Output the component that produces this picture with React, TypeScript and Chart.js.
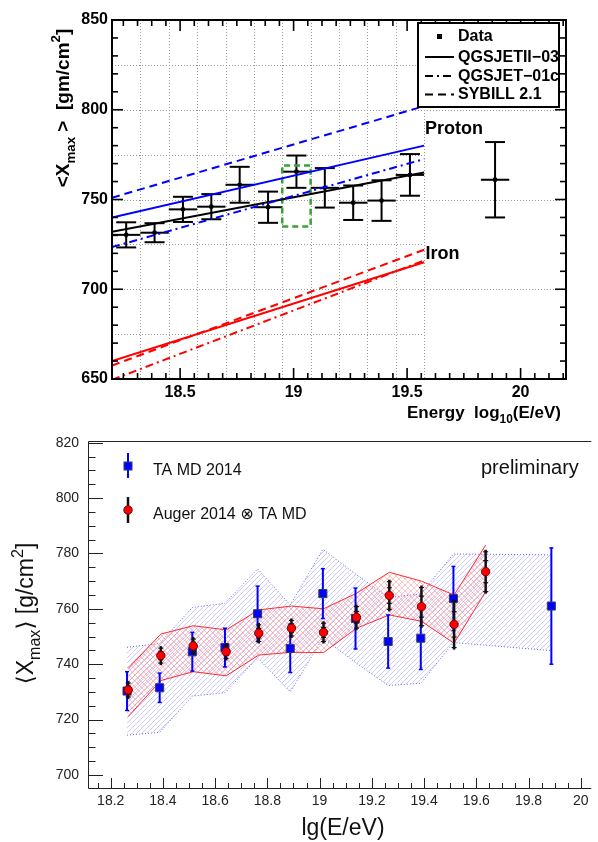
import React, { useEffect, useRef } from 'react';
import { Chart, registerables } from 'chart.js';

Chart.register(...registerables);

const FONT = "'Liberation Sans', 'DejaVu Sans', Arial, sans-serif";

// ---------- TA MD 2014 (shared by both panels) ----------
const taEnergy = [18.2625, 18.3875, 18.5125, 18.6375, 18.7625, 18.8875, 19.0125, 19.1375, 19.2625, 19.3875, 19.5125, 19.8875];
const taXmax = [730.3, 731.5, 744.5, 746.0, 758.2, 745.7, 765.5, 756.5, 748.2, 749.4, 763.7, 761.0];
const taErr = [7.0, 5.3, 7.0, 7.0, 10.0, 8.7, 9.0, 11.0, 9.6, 11.3, 11.6, 21.0];
const taBinHalfWidth = [0.0625, 0.0625, 0.0625, 0.0625, 0.0625, 0.0625, 0.0625, 0.0625, 0.0625, 0.0625, 0.0625, 0.0625];
const taSysUpper = [746.1, 747.5, 760.5, 762.0, 774.4, 761.4, 781.5, 772.6, 764.1, 765.4, 779.8, 779.5];
const taSysLower = [714.4, 715.4, 728.5, 729.7, 742.3, 730.0, 749.5, 740.6, 732.3, 733.1, 747.8, 744.9];

// ---------- Auger 2014 folded with TA MD ----------
const augerEnergy = [18.267, 18.392, 18.516, 18.642, 18.767, 18.892, 19.015, 19.141, 19.267, 19.39, 19.515, 19.636];
const augerXmax = [730.7, 743.1, 746.6, 744.5, 751.2, 753.0, 751.5, 756.9, 764.8, 760.8, 754.4, 773.4];
const augerErrTotal = [2.5, 2.7, 2.5, 2.4, 3.0, 2.8, 3.3, 3.9, 5.0, 6.9, 8.4, 7.2];
const augerErrStat = [1.4, 1.5, 1.4, 1.3, 1.7, 1.6, 1.8, 2.1, 2.8, 3.8, 4.6, 4.0];
const augerBandUpper = [738.5, 750.9, 753.9, 752.4, 759.6, 761.0, 760.0, 765.6, 773.2, 770.0, 765.0, 783.0];
const augerBandLower = [721.1, 734.1, 737.3, 735.8, 743.3, 744.3, 744.2, 753.0, 757.8, 755.5, 747.6, 766.2];

// ---------- top panel model lines ----------
const modelEnergy = [18.2, 19.575];
const fitXmax = [732, 765];
const protonQGSJETII = [740, 780];
const protonQGSJET01c = [723.5, 772.5];
const protonSIBYLL = [751, 802];
const ironQGSJETII = [660, 715];
const ironQGSJET01c = [649.5, 716];
const ironSIBYLL = [657.5, 722];
const boxEnergy = [18.95, 19.075, 19.075, 18.95, 18.95];
const boxXmax = [735, 735, 769, 769, 735];

const topXTicks = [18.5, 19, 19.5, 20];
const topYTicks = [650, 700, 750, 800, 850];
const binEdges = [18.325, 18.45, 18.575, 18.7, 18.825, 18.95, 19.075, 19.2, 19.325, 19.45, 19.575];
const gridShortY = [675, 725, 775, 825];
const gridLongY = [700, 750, 800];
const topLegend = ['Data', 'QGSJETII\u221203', 'QGSJET\u221201c', 'SYBILL 2.1'];

const botXTicks = [18.2, 18.4, 18.6, 18.8, 19, 19.2, 19.4, 19.6, 19.8, 20];
const botYTicks = [700, 720, 740, 760, 780, 800, 820];

const SOLID: number[] = [];
const DASHED = [8, 5];
const DASHDOT = [8, 4, 2, 4];

type Seg = { t: string; s?: 'sub' | 'sup' };

function drawRich(ctx: CanvasRenderingContext2D, segs: Seg[], x: number, y: number, size: number, weight: string, align: 'left' | 'center' | 'right', rotate = 0, color = '#000') {
  ctx.save();
  ctx.translate(x, y);
  if (rotate) ctx.rotate(rotate);
  let w = 0;
  for (const g of segs) {
    ctx.font = `${weight} ${g.s ? size * 0.7 : size}px ${FONT}`;
    w += ctx.measureText(g.t).width;
  }
  let cx = align === 'left' ? 0 : align === 'center' ? -w / 2 : -w;
  ctx.textAlign = 'left';
  ctx.textBaseline = 'alphabetic';
  ctx.fillStyle = color;
  for (const g of segs) {
    ctx.font = `${weight} ${g.s ? size * 0.7 : size}px ${FONT}`;
    const dy = g.s === 'sub' ? size * 0.3 : g.s === 'sup' ? -size * 0.45 : 0;
    ctx.fillText(g.t, cx, dy);
    cx += ctx.measureText(g.t).width;
  }
  ctx.restore();
}

function seg(ctx: CanvasRenderingContext2D, x1: number, y1: number, x2: number, y2: number) {
  ctx.beginPath();
  ctx.moveTo(x1, y1);
  ctx.lineTo(x2, y2);
  ctx.stroke();
}

function pts(xs: number[], ys: number[]) {
  return xs.map((x, i) => ({ x, y: ys[i] }));
}

function lineDs(xs: number[], ys: number[], color: string, dash: number[], width = 2) {
  return {
    data: pts(xs, ys),
    showLine: true,
    borderColor: color,
    borderWidth: width,
    borderDash: dash,
    pointRadius: 0,
    fill: false,
    tension: 0,
  };
}

function makeHatch(color: string, size: number, both: boolean, lw: number) {
  const c = document.createElement('canvas');
  c.width = size;
  c.height = size;
  const g = c.getContext('2d')!;
  g.strokeStyle = color;
  g.lineWidth = lw;
  g.beginPath();
  g.moveTo(0, size); g.lineTo(size, 0);
  g.moveTo(-size / 2, size / 2); g.lineTo(size / 2, -size / 2);
  g.moveTo(size / 2, size * 1.5); g.lineTo(size * 1.5, size / 2);
  if (both) {
    g.moveTo(0, 0); g.lineTo(size, size);
    g.moveTo(-size / 2, size / 2); g.lineTo(size / 2, size * 1.5);
    g.moveTo(size / 2, -size / 2); g.lineTo(size * 1.5, size / 2);
  }
  g.stroke();
  return g.createPattern(c, 'repeat');
}

const TOP_DATA_INDEX = 8;

const topPlugin = {
  id: 'topDecor',
  beforeDatasetsDraw(chart: any) {
    const { ctx, chartArea: a, scales } = chart;
    const x = scales.x, y = scales.y;
    ctx.save();
    ctx.strokeStyle = '#9a9a9a';
    ctx.lineWidth = 1;
    ctx.setLineDash([1, 2]);
    const xEnd = x.getPixelForValue(binEdges[binEdges.length - 1]);
    for (const v of binEdges) {
      const px = Math.round(x.getPixelForValue(v)) + 0.5;
      seg(ctx, px, a.top, px, a.bottom);
    }
    for (const v of gridShortY) {
      const py = Math.round(y.getPixelForValue(v)) + 0.5;
      seg(ctx, a.left, py, xEnd, py);
    }
    for (const v of gridLongY) {
      const py = Math.round(y.getPixelForValue(v)) + 0.5;
      seg(ctx, a.left, py, a.right, py);
    }
    ctx.restore();
  },
  beforeDatasetDraw(chart: any, args: any) {
    if (args.index !== TOP_DATA_INDEX) return;
    const { ctx, scales } = chart;
    const x = scales.x, y = scales.y;
    ctx.save();
    ctx.strokeStyle = '#000';
    ctx.lineWidth = 2;
    for (let i = 0; i < taEnergy.length; i++) {
      const px = x.getPixelForValue(taEnergy[i]);
      const py = y.getPixelForValue(taXmax[i]);
      const up = y.getPixelForValue(taXmax[i] + taErr[i]);
      const dn = y.getPixelForValue(taXmax[i] - taErr[i]);
      seg(ctx, px, up, px, dn);
      seg(ctx, px - 10, up, px + 10, up);
      seg(ctx, px - 10, dn, px + 10, dn);
      seg(ctx, x.getPixelForValue(taEnergy[i] - taBinHalfWidth[i]), py, x.getPixelForValue(taEnergy[i] + taBinHalfWidth[i]), py);
    }
    ctx.restore();
  },
  afterDatasetsDraw(chart: any) {
    const { ctx, chartArea: a, scales } = chart;
    const x = scales.x, y = scales.y;
    ctx.save();
    ctx.strokeStyle = '#000';
    ctx.lineWidth = 1.6;
    for (let v = 650; v <= 850; v += 10) {
      const py = y.getPixelForValue(v);
      const len = v % 50 === 0 ? 11 : 6;
      seg(ctx, a.left, py, a.left + len, py);
      seg(ctx, a.right, py, a.right - len, py);
    }
    for (let k = 0; k < 40; k++) {
      const v = 18.25 + k * 0.0625;
      if (v > 20.2) break;
      const px = x.getPixelForValue(v);
      const major = Math.abs(v * 2 - Math.round(v * 2)) < 1e-6;
      const len = major ? 11 : 6;
      seg(ctx, px, a.bottom, px, a.bottom - len);
      seg(ctx, px, a.top, px, a.top + len);
    }
    ctx.lineWidth = 2;
    ctx.strokeRect(a.left, a.top, a.right - a.left, a.bottom - a.top);
    ctx.restore();
  },
  afterDraw(chart: any) {
    const { ctx } = chart;
    ctx.save();
    const L = 418, T = 23, R = 559, B = 107;
    ctx.fillStyle = '#fff';
    ctx.fillRect(L, T, R - L, B - T);
    ctx.strokeStyle = '#000';
    ctx.lineWidth = 2;
    ctx.strokeRect(L, T, R - L, B - T);
    ctx.fillStyle = '#000';
    ctx.fillRect(437, 34, 5, 5);
    const rowY = [36.5, 57, 76, 94.5];
    const dashes = [SOLID, SOLID, DASHDOT, DASHED];
    for (let i = 1; i < 4; i++) {
      ctx.setLineDash(dashes[i]);
      seg(ctx, 425, rowY[i], 454, rowY[i]);
    }
    ctx.setLineDash([]);
    ctx.font = `bold 16px ${FONT}`;
    ctx.textAlign = 'left';
    ctx.textBaseline = 'middle';
    for (let i = 0; i < 4; i++) ctx.fillText(topLegend[i], 458, rowY[i] + 0.5);
    ctx.font = `bold 18px ${FONT}`;
    ctx.textBaseline = 'alphabetic';
    ctx.fillText('Proton', 425, 134);
    ctx.fillText('Iron', 425.5, 259);
    drawRich(ctx, [{ t: 'Energy  log' }, { t: '10', s: 'sub' }, { t: '(E/eV)' }], 561, 418, 17, 'bold', 'right');
    drawRich(ctx, [{ t: '<X' }, { t: 'max', s: 'sub' }, { t: ' >  [gm/cm' }, { t: '2', s: 'sup' }, { t: ']' }], 69, 108, 19, 'bold', 'center', -Math.PI / 2);
    ctx.restore();
  },
};

const BOT_TA_INDEX = 4;
const BOT_AUGER_INDEX = 5;

function drawTAMarker(ctx: CanvasRenderingContext2D, px: number, py: number) {
  ctx.fillStyle = '#0000ff';
  ctx.strokeStyle = '#3a3a5a';
  ctx.lineWidth = 1;
  ctx.fillRect(px - 4, py - 4, 8, 8);
  ctx.strokeRect(px - 4, py - 4, 8, 8);
}

function drawAugerMarker(ctx: CanvasRenderingContext2D, px: number, py: number) {
  ctx.beginPath();
  ctx.arc(px, py, 4.2, 0, Math.PI * 2);
  ctx.fillStyle = '#ff0000';
  ctx.fill();
  ctx.strokeStyle = '#700000';
  ctx.lineWidth = 1;
  ctx.stroke();
}

const botPlugin = {
  id: 'botDecor',
  beforeDatasetDraw(chart: any, args: any) {
    const { ctx, scales } = chart;
    const x = scales.x, y = scales.y;
    if (args.index === BOT_TA_INDEX) {
      ctx.save();
      ctx.strokeStyle = '#0000ff';
      for (let i = 0; i < taEnergy.length; i++) {
        const px = x.getPixelForValue(taEnergy[i]);
        const up = y.getPixelForValue(taXmax[i] + taErr[i]);
        const dn = y.getPixelForValue(taXmax[i] - taErr[i]);
        ctx.lineWidth = 2;
        seg(ctx, px, up, px, dn);
        ctx.lineWidth = 1.5;
        seg(ctx, px - 2, up, px + 2, up);
        seg(ctx, px - 2, dn, px + 2, dn);
      }
      ctx.restore();
    }
    if (args.index === BOT_AUGER_INDEX) {
      ctx.save();
      ctx.strokeStyle = '#111';
      for (let i = 0; i < augerEnergy.length; i++) {
        const px = x.getPixelForValue(augerEnergy[i]);
        const up = y.getPixelForValue(augerXmax[i] + augerErrTotal[i]);
        const dn = y.getPixelForValue(augerXmax[i] - augerErrTotal[i]);
        const su = y.getPixelForValue(augerXmax[i] + augerErrStat[i]);
        const sd = y.getPixelForValue(augerXmax[i] - augerErrStat[i]);
        ctx.lineWidth = 2.5;
        seg(ctx, px, up - 2, px, dn + 2);
        ctx.lineWidth = 1.2;
        for (const t of [up, dn, su, sd]) seg(ctx, px - 2.5, t, px + 2.5, t);
      }
      ctx.restore();
    }
  },
  afterDatasetsDraw(chart: any) {
    const { ctx, chartArea: a, scales } = chart;
    const x = scales.x, y = scales.y;
    ctx.save();
    ctx.strokeStyle = '#222';
    ctx.lineWidth = 1;
    for (let k = 0; k <= 24; k++) {
      const v = 700 + k * 5;
      const py = Math.round(y.getPixelForValue(v)) + 0.5;
      seg(ctx, a.left, py, a.left + (v % 20 === 0 ? 15 : 7.5), py);
    }
    for (let k = 0; k < 40; k++) {
      const v = 18.15 + k * 0.05;
      if (v > 20.04) break;
      const px = Math.round(x.getPixelForValue(v)) + 0.5;
      const major = Math.abs(v * 5 - Math.round(v * 5)) < 1e-6;
      seg(ctx, px, a.bottom, px, a.bottom - (major ? 10 : 5));
    }
    ctx.beginPath();
    ctx.moveTo(a.right, Math.round(a.top) + 0.5);
    ctx.lineTo(Math.round(a.left) + 0.5, Math.round(a.top) + 0.5);
    ctx.lineTo(Math.round(a.left) + 0.5, Math.round(a.bottom) + 0.5);
    ctx.lineTo(a.right, Math.round(a.bottom) + 0.5);
    ctx.stroke();
    ctx.restore();
  },
  afterDraw(chart: any) {
    const { ctx } = chart;
    ctx.save();
    ctx.strokeStyle = '#0000ff';
    ctx.lineWidth = 2;
    seg(ctx, 128, 33, 128, 58);
    drawTAMarker(ctx, 128, 46);
    ctx.strokeStyle = '#111';
    ctx.lineWidth = 2.5;
    seg(ctx, 128, 77, 128, 103);
    drawAugerMarker(ctx, 128, 90);
    ctx.fillStyle = '#111';
    ctx.font = `16px ${FONT}`;
    ctx.textAlign = 'left';
    ctx.textBaseline = 'alphabetic';
    ctx.fillText('TA MD 2014', 153, 55);
    ctx.fillText('Auger 2014 \u2297 TA MD', 153, 99);
    ctx.font = `20px ${FONT}`;
    ctx.fillText('preliminary', 481, 54);
    drawRich(ctx, [{ t: 'lg(E/eV)' }], 343, 415, 23, 'normal', 'center', 0, '#111');
    drawRich(ctx, [{ t: '\u27E8X' }, { t: 'max', s: 'sub' }, { t: '\u27E9 [g/cm' }, { t: '2', s: 'sup' }, { t: ']' }], 33, 193.5, 23, 'normal', 'center', -Math.PI / 2, '#111');
    ctx.restore();
  },
};

function makeTop(): any {
  return {
    type: 'scatter',
    data: {
      datasets: [
        lineDs(modelEnergy, protonSIBYLL, '#0000ff', DASHED),
        lineDs(modelEnergy, protonQGSJETII, '#0000ff', SOLID),
        lineDs(modelEnergy, protonQGSJET01c, '#0000ff', DASHDOT),
        lineDs(modelEnergy, ironSIBYLL, '#ff0000', DASHED),
        lineDs(modelEnergy, ironQGSJETII, '#ff0000', SOLID),
        lineDs(modelEnergy, ironQGSJET01c, '#ff0000', DASHDOT),
        lineDs(modelEnergy, fitXmax, '#000000', SOLID),
        lineDs(boxEnergy, boxXmax, '#36a336', [6, 4], 2.5),
        {
          data: pts(taEnergy, taXmax),
          showLine: false,
          pointRadius: 2.4,
          pointBackgroundColor: '#000',
          pointBorderColor: '#000',
          pointBorderWidth: 0,
        },
      ],
    },
    options: {
      responsive: false,
      animation: false,
      events: [],
      layout: { padding: { left: 0, right: 32, top: 20, bottom: 0 } },
      plugins: { legend: { display: false }, tooltip: { enabled: false } },
      scales: {
        x: {
          type: 'linear',
          min: 18.2,
          max: 20.2,
          afterBuildTicks: (s: any) => { s.ticks = topXTicks.map((v) => ({ value: v })); },
          afterFit: (s: any) => { s.height = 51; },
          grid: { display: false, drawTicks: false },
          border: { display: false },
          ticks: { padding: 4, color: '#000', font: { family: FONT, size: 16, weight: 'bold' }, autoSkip: false, maxRotation: 0, callback: (v: any) => String(v) },
        },
        y: {
          type: 'linear',
          min: 650,
          max: 850,
          afterBuildTicks: (s: any) => { s.ticks = topYTicks.map((v) => ({ value: v })); },
          afterFit: (s: any) => { s.width = 112; },
          grid: { display: false, drawTicks: false },
          border: { display: false },
          ticks: { padding: 4, color: '#000', font: { family: FONT, size: 16, weight: 'bold' }, callback: (v: any) => String(v) },
        },
      },
    },
    plugins: [topPlugin],
  };
}

function makeBottom(): any {
  const blueHatch = makeHatch('rgba(120,120,255,0.55)', 5, false, 0.7);
  const redHatch = makeHatch('rgba(255,110,110,0.6)', 6, true, 0.7);
  return {
    type: 'scatter',
    data: {
      datasets: [
        { data: pts(taEnergy, taSysUpper), showLine: true, borderColor: '#6464ff', borderWidth: 1, borderDash: [1, 2], pointRadius: 0, tension: 0, fill: '+1', backgroundColor: blueHatch, order: 6 },
        { data: pts(taEnergy, taSysLower), showLine: true, borderColor: '#6464ff', borderWidth: 1, borderDash: [1, 2], pointRadius: 0, tension: 0, fill: false, order: 5 },
        { data: pts(augerEnergy, augerBandUpper), showLine: true, borderColor: '#ff2a2a', borderWidth: 1, pointRadius: 0, tension: 0, fill: '+1', backgroundColor: redHatch, order: 4 },
        { data: pts(augerEnergy, augerBandLower), showLine: true, borderColor: '#ff2a2a', borderWidth: 1, pointRadius: 0, tension: 0, fill: false, order: 3 },
        { data: pts(taEnergy, taXmax), showLine: false, pointStyle: 'rect', pointRadius: 5.7, pointBackgroundColor: '#0000ff', pointBorderColor: '#3a3a5a', pointBorderWidth: 1, order: 2 },
        { data: pts(augerEnergy, augerXmax), showLine: false, pointStyle: 'circle', pointRadius: 4.2, pointBackgroundColor: '#ff0000', pointBorderColor: '#700000', pointBorderWidth: 1, order: 1 },
      ],
    },
    options: {
      responsive: false,
      animation: false,
      events: [],
      layout: { padding: { left: 0, right: 0, top: 21, bottom: 0 } },
      plugins: { legend: { display: false }, tooltip: { enabled: false } },
      scales: {
        x: {
          type: 'linear',
          min: 18.113,
          max: 20.0405,
          afterBuildTicks: (s: any) => { s.ticks = botXTicks.map((v) => ({ value: v })); },
          afterFit: (s: any) => { s.height = 54; },
          grid: { display: false, drawTicks: false },
          border: { display: false },
          ticks: { padding: 5, color: '#222', font: { family: FONT, size: 14 }, autoSkip: false, maxRotation: 0, callback: (v: any) => String(v) },
        },
        y: {
          type: 'linear',
          min: 695.3,
          max: 820.6,
          afterBuildTicks: (s: any) => { s.ticks = botYTicks.map((v) => ({ value: v })); },
          afterFit: (s: any) => { s.width = 88; },
          grid: { display: false, drawTicks: false },
          border: { display: false },
          ticks: { padding: 9, color: '#222', font: { family: FONT, size: 14 }, callback: (v: any) => String(v) },
        },
      },
    },
    plugins: [botPlugin],
  };
}

export default function App() {
  const topRef = useRef<HTMLCanvasElement>(null);
  const botRef = useRef<HTMLCanvasElement>(null);
  useEffect(() => {
    const top = new Chart(topRef.current as HTMLCanvasElement, makeTop());
    const bot = new Chart(botRef.current as HTMLCanvasElement, makeBottom());
    return () => {
      top.destroy();
      bot.destroy();
    };
  }, []);
  return (
    <div style={{ position: 'fixed', left: 0, top: 0, width: 598, height: 842, overflow: 'hidden', background: '#fff' }}>
      <canvas ref={botRef} width={598} height={422} style={{ position: 'absolute', left: 0, top: 420, width: 598, height: 422 }} />
      <canvas ref={topRef} width={598} height={430} style={{ position: 'absolute', left: 0, top: 0, width: 598, height: 430 }} />
    </div>
  );
}
